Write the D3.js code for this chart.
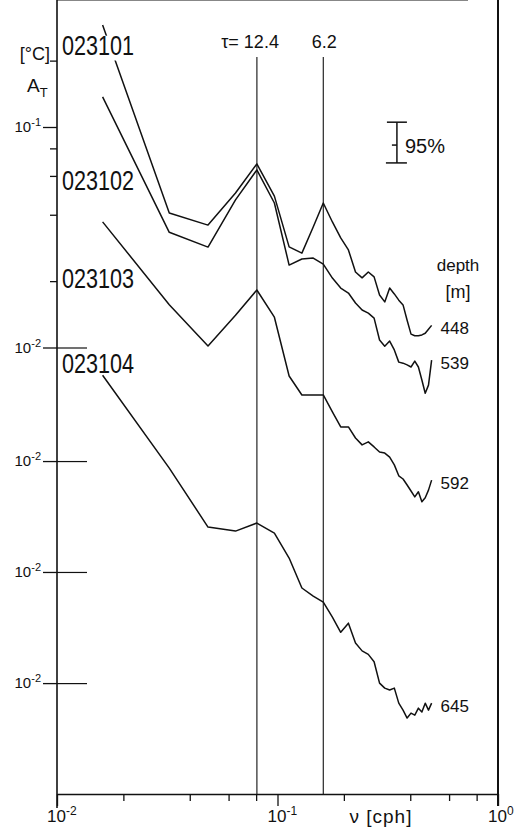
<!DOCTYPE html>
<html lang="en">
<head>
<meta charset="UTF-8">
<title>Temperature amplitude spectra</title>
<style>
  body { margin: 0; background: #fff; }
  svg { display: block; font-family: "Liberation Sans", Arial, sans-serif; }
</style>
</head>
<body>
<svg id="chart" width="515" height="833"></svg>
<script src="https://d3js.org/d3.v7.min.js"></script>
<script>

// frequency of each spectral estimate [cph]
var freq = [0.0161, 0.0323, 0.0484, 0.0645, 0.0806, 0.0968, 0.1129, 0.1290, 0.1452, 0.1613,
            0.1774, 0.1935, 0.2097, 0.2258, 0.2419, 0.2581, 0.2742, 0.2903, 0.3065, 0.3226,
            0.3387, 0.3548, 0.3710, 0.3871, 0.4032, 0.4194, 0.4355, 0.4516, 0.4677, 0.4839, 0.5000];

// amplitude A_T [°C] per mooring
var amp101 = [0.29, 0.0407, 0.0359, 0.0502, 0.0680, 0.0486, 0.0286, 0.0268, 0.0352, 0.0452,
              0.0371, 0.0314, 0.0277, 0.0220, 0.0207, 0.0220, 0.0209, 0.0173, 0.0161, 0.0186,
              0.0175, 0.0164, 0.0156, 0.0133, 0.0115, 0.0113, 0.0113, 0.0114, 0.0116, 0.0121, 0.0126];
var amp102 = [0.448, 0.109, 0.0934, 0.153, 0.209, 0.148, 0.0774, 0.0825, 0.0833, 0.0782,
              0.0676, 0.0609, 0.0578, 0.0521, 0.0484, 0.0469, 0.0445, 0.0354, 0.0332, 0.0350,
              0.0319, 0.0281, 0.0278, 0.0273, 0.0267, 0.0284, 0.0267, 0.0233, 0.0203, 0.0221, 0.0287];
var amp103 = [0.387, 0.163, 0.106, 0.146, 0.190, 0.143, 0.0774, 0.0635, 0.0635, 0.0635,
              0.0532, 0.0455, 0.0455, 0.0405, 0.0377, 0.0389, 0.0369, 0.0350, 0.0346, 0.0332,
              0.0306, 0.0273, 0.0264, 0.0248, 0.0233, 0.0219, 0.0231, 0.0208, 0.0217, 0.0235, 0.0261];
var amp104 = [0.249, 0.0944, 0.0510, 0.0489, 0.0532, 0.0479, 0.0369, 0.0270, 0.0248, 0.0233,
              0.0199, 0.0170, 0.0187, 0.0152, 0.0140, 0.0135, 0.0125, 0.0100, 0.00949, 0.00930,
              0.00949, 0.00811, 0.00754, 0.00694, 0.00731, 0.00716, 0.00770, 0.00739, 0.00811, 0.00754, 0.00811];

var stations = ["023101", "023102", "023103", "023104"];
var depths = [448, 539, 592, 645];
var shift = [0, 0.515, 1.018, 1.522];   // decades each spectrum is moved down
var periods = [12.4, 6.2];               // marked periods [h]
var ci95 = [0.83, 1.27];                 // 95% confidence factors

var xMajor = [0.01, 0.1, 1];
var xMinor = [0.02, 0.04, 0.06, 0.08, 0.2, 0.4, 0.6, 0.8];
var yMinor = [0.2, 0.08, 0.06, 0.04, 0.02];

var series = [amp101, amp102, amp103, amp104];

var svg = d3.select("#chart"),
    x = d3.scaleLog().domain([0.01, 1]).range([57, 498]),
    y = d3.scaleLog().domain([0.1, 0.01]).range([127, 347.5]),
    top = 15, bottom = 794;

function yv(a, k) { return y(a / Math.pow(10, shift[k])); }

function pow10(sel, base, exp, supSize, up) {
  sel.append("tspan").text(base);
  sel.append("tspan").attr("dy", -up).attr("font-size", supSize).text(exp);
}

// frame
var frame = svg.append("g").attr("stroke", "#111").attr("fill", "none");
frame.append("line").attr("x1", 57).attr("x2", 57).attr("y1", top).attr("y2", 808).attr("stroke-width", 1.6);
frame.append("line").attr("x1", 57).attr("x2", 468).attr("y1", top).attr("y2", top).attr("stroke-width", 1.2);
frame.append("line").attr("x1", 498).attr("x2", 498).attr("y1", top).attr("y2", 806).attr("stroke-width", 2);

// bottom axis
svg.append("g").attr("transform", "translate(0," + bottom + ")")
  .call(d3.axisBottom(x).tickValues(xMinor).tickSize(7).tickSizeOuter(0).tickFormat(""))
  .call(function (g) { g.selectAll("line, path").attr("stroke", "#111").attr("stroke-width", 1.3); });
svg.append("g").attr("transform", "translate(0," + bottom + ")")
  .call(d3.axisBottom(x).tickValues(xMajor).tickSize(12).tickSizeOuter(0).tickFormat(""))
  .call(function (g) {
    g.select(".domain").remove();
    g.selectAll("line").attr("stroke", "#111").attr("stroke-width", 1.3);
  });

xMajor.forEach(function (v) {
  var t = svg.append("text").attr("x", x(v) - 10).attr("y", 822)
    .attr("font-size", 17).attr("fill", "#111");
  pow10(t, "10", String(Math.round(Math.log10(v))), 12, 7);
});
svg.append("text").attr("x", 381).attr("y", 823).attr("text-anchor", "middle")
  .attr("font-size", 19).attr("letter-spacing", 1).attr("fill", "#111").text("ν [cph]");

// left axis ticks
var majorVals = [0.1].concat(shift.map(function (s) { return 0.01 / Math.pow(10, s); }));
svg.append("g").attr("transform", "translate(57,0)")
  .call(d3.axisLeft(y).tickValues(yMinor).tickSize(7).tickSizeOuter(0).tickFormat(""))
  .call(function (g) { g.select(".domain").remove(); g.selectAll("line").attr("stroke", "#111").attr("stroke-width", 1.3); });
svg.append("g").attr("transform", "translate(57,0)")
  .call(d3.axisLeft(y).tickValues(majorVals).tickSize(14).tickSizeOuter(0).tickFormat(""))
  .call(function (g) { g.select(".domain").remove(); g.selectAll("line").attr("stroke", "#111").attr("stroke-width", 1.3); });
svg.append("g").attr("transform", "translate(57,0)")
  .call(d3.axisRight(y).tickValues(majorVals.slice(1)).tickSize(30).tickSizeOuter(0).tickFormat(""))
  .call(function (g) { g.select(".domain").remove(); g.selectAll("line").attr("stroke", "#111").attr("stroke-width", 1.2); });

majorVals.forEach(function (v, i) {
  var t = svg.append("text").attr("x", 41).attr("y", y(v) + 5).attr("text-anchor", "end")
    .attr("font-size", 15).attr("fill", "#111");
  pow10(t, "10", i === 0 ? "-1" : "-2", 11, 6);
});

svg.append("text").attr("x", 50).attr("y", 60).attr("text-anchor", "end")
  .attr("font-size", 18).attr("fill", "#111").text("[°C]");
var at = svg.append("text").attr("x", 27).attr("y", 92).attr("font-size", 19).attr("fill", "#111");
at.append("tspan").text("A");
at.append("tspan").attr("dy", 5).attr("font-size", 13).text("T");

// marked periods
periods.forEach(function (p) {
  var px = x(1 / p);
  svg.append("line").attr("x1", px).attr("x2", px).attr("y1", 57).attr("y2", bottom)
    .attr("stroke", "#111").attr("stroke-width", 1.1);
  svg.append("line").attr("x1", px).attr("x2", px).attr("y1", top).attr("y2", top + 7)
    .attr("stroke", "#111").attr("stroke-width", 1.1);
});
svg.append("text").attr("x", x(1 / periods[0]) + 22).attr("y", 48).attr("text-anchor", "end")
  .attr("font-size", 18).attr("fill", "#111").text("τ= " + periods[0]);
svg.append("text").attr("x", x(1 / periods[1]) + 1).attr("y", 48).attr("text-anchor", "middle")
  .attr("font-size", 18).attr("fill", "#111").text(periods[1]);

// spectra
var line = d3.line();
series.forEach(function (vals, k) {
  var pts = vals.map(function (a, i) { return [x(freq[i]), yv(a, k)]; });
  svg.append("path").attr("d", line(pts)).attr("fill", "none")
    .attr("stroke", "#111").attr("stroke-width", 1.5).attr("stroke-linejoin", "round");
  var last = pts[pts.length - 1];
  svg.append("text").attr("x", last[0] + 9).attr("y", last[1] + 9)
    .attr("font-size", 17).attr("fill", "#111").text(depths[k]);
});

// station labels
var labelBase = [55, 190, 288, 373];
stations.forEach(function (s, k) {
  var g = svg.append("g").attr("transform", "translate(62," + labelBase[k] + ") scale(0.8,1)");
  var t = g.append("text").attr("font-size", 27).attr("fill", "#111").text(s);
  if (k === 0) {
    var b = t.node().getBBox();
    g.insert("rect", "text").attr("x", b.x - 2).attr("y", b.y + 5).attr("width", b.width + 4)
      .attr("height", b.height - 5).attr("fill", "#fff");
  }
});

// depth heading
svg.append("text").attr("x", 458).attr("y", 271).attr("text-anchor", "middle")
  .attr("font-size", 17).attr("fill", "#111").text("depth");
svg.append("text").attr("x", 458).attr("y", 298).attr("text-anchor", "middle")
  .attr("font-size", 18).attr("fill", "#111").text("[m]");

// 95% confidence bar
var cx = x(0.348), cRef = y(0.0828);
var bar = svg.append("g").attr("stroke", "#111").attr("stroke-width", 1.5);
bar.append("line").attr("x1", cx).attr("x2", cx).attr("y1", y(0.0828 * ci95[1])).attr("y2", y(0.0828 * ci95[0]));
bar.append("line").attr("x1", cx - 10).attr("x2", cx + 10).attr("y1", y(0.0828 * ci95[1])).attr("y2", y(0.0828 * ci95[1]));
bar.append("line").attr("x1", cx - 11).attr("x2", cx + 10).attr("y1", y(0.0828 * ci95[0])).attr("y2", y(0.0828 * ci95[0]));
bar.append("line").attr("x1", cx - 5).attr("x2", cx).attr("y1", cRef).attr("y2", cRef);
svg.append("text").attr("x", cx + 8).attr("y", cRef + 8).attr("font-size", 20).attr("fill", "#111").text("95%");

</script>
</body>
</html>
